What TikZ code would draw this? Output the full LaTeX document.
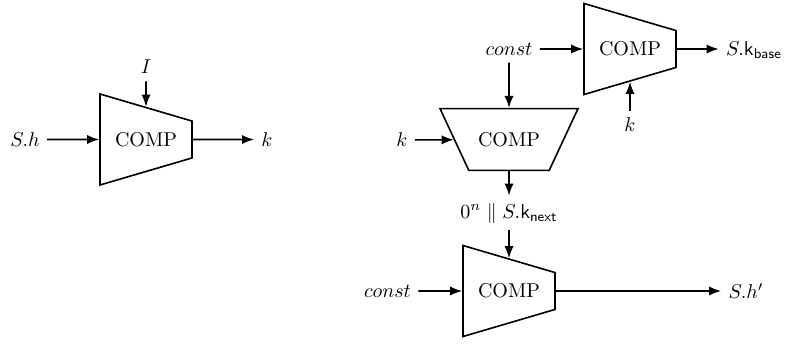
\documentclass[tikz,border=0pt]{standalone}
\usepackage{amssymb}
\usetikzlibrary{arrows.meta,shapes}

\begin{document}
\begin{tikzpicture}[
        x=0.5pt, y=-0.5pt,
        every path/.style={thick},
        >={Latex[length=6pt,width=4.6pt]},
        comp/.style={draw, thick, trapezium, shape border rotate=270, trapezium left angle=73.6, trapezium right angle=73.6, trapezium stretches body, inner xsep=7.5pt, minimum width=45.5pt, minimum height=46pt},
        compflip/.style={draw, thick, trapezium, shape border rotate=180, trapezium left angle=65, trapezium right angle=65, trapezium stretches body, inner ysep=11.8pt, minimum width=69pt, minimum height=30.5pt}
    ]
    \useasboundingbox (0,0) rectangle (790,343);

    % Nodes
    \node[comp] (comp1) at (146,139.5) {COMP};
    \node (sh) at (25,139.5) {$S.h$};
    \node (k1) at (267,139.5) {$k$};
    \node (i) at (146,67) {$I$};

    \node[comp] (comp2) at (630,49) {COMP};
    \node (const1) at (509,49) {$const$};
    \node (kbase) at (754,50) {$S.\mathsf{k}_{\mathsf{base}}$};
    \node (k2) at (630,125) {$k$};

    \node[compflip] (comp3) at (509,139.5) {COMP};
    \node (k3) at (402,140) {$k$};
    \node (next) at (509,213) {$0^n \parallel S.\mathsf{k}_{\mathsf{next}}$};

    \node[comp] (comp4) at (509,291) {COMP};
    \node (const2) at (387.5,291) {$const$};
    \node (shnew) at (746,291) {$S.h'$};

    % Edges
    \draw[->] (sh) -- (comp1);
    \draw[->] (comp1) -- (k1);
    \draw[->] (i) -- (comp1);

    \draw[->] (const1) -- (comp2);
    \draw[->] (comp2) -- (kbase.west |- comp2);
    \draw[->] (k2) -- (comp2);

    \draw[->] (const1) -- (comp3);
    \draw[->] (k3) -- (comp3);
    \draw[->] (comp3) -- (next);

    \draw[->] (next) -- (comp4);
    \draw[->] (const2) -- (comp4);
    \draw[->] (comp4) -- (shnew);

\end{tikzpicture}
\end{document}
